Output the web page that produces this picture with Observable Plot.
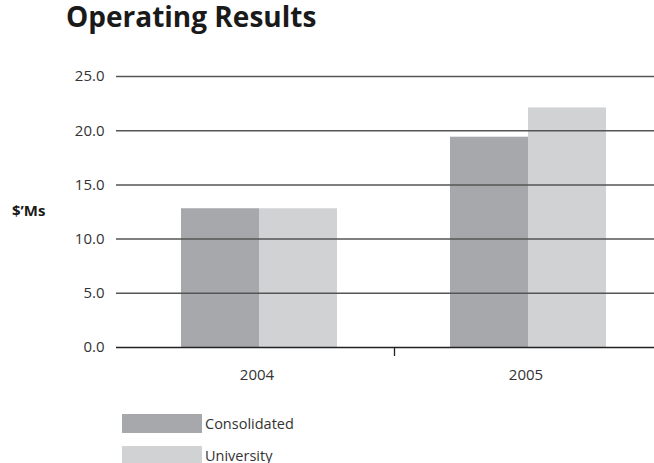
<!DOCTYPE html>
<html>
<head>
<meta charset="utf-8">
<script src="https://cdn.jsdelivr.net/npm/d3@7"></script>
<script src="https://cdn.jsdelivr.net/npm/@observablehq/plot@0.6"></script>
<style>
  html, body { margin: 0; padding: 0; background: #fff; overflow: hidden; }
  body { width: 654px; height: 463px; position: relative; font-family: "Open Sans", sans-serif; }
  #title { position: absolute; left: 66px; top: 2px; font-size: 28px; line-height: 28px; font-weight: 700; color: #1a1a1a; white-space: nowrap; z-index: 2; }
  #ylabel { position: absolute; left: 12px; top: 200px; font-size: 15px; font-weight: 700; color: #1a1a1a; z-index: 2; }
  #chart { position: absolute; left: 0; top: 50px; z-index: 1; }
  .leg { position: absolute; left: 122px; display: flex; align-items: center; font-size: 14.5px; line-height: 17px; color: #333; height: 19px; }
  .sw { width: 80px; height: 19px; margin-right: 3px; }
</style>
</head>
<body>
<div id="title">Operating Results</div>
<div id="ylabel">$’Ms</div>
<div id="chart"></div>
<div id="legend"></div>
<script>
const years = ["2004", "2005"];
const seriesNames = ["Consolidated", "University"];
const consolidated = [12.8, 19.4];
const university = [12.8, 22.1];
const yTicks = [0, 5, 10, 15, 20, 25];
const colors = ["#a7a8ab", "#d1d2d4"];

const data = [];
years.forEach((y, i) => {
  data.push({year: y, series: seriesNames[0], value: consolidated[i]});
  data.push({year: y, series: seriesNames[1], value: university[i]});
});

let tickDrawn = false;
const dividerTick = (index, scales, values, dimensions) => {
  if (tickDrawn) return null;
  tickDrawn = true;
  const x = scales.x, y = scales.y, fx = scales.fx;
  const bw = typeof x.bandwidth === "function" ? x.bandwidth() : x.bandwidth;
  const step = fx ? fx(years[1]) - fx(years[0]) : (dimensions.width - dimensions.marginLeft - dimensions.marginRight) / 2;
  const offset = fx ? fx(years[0]) - dimensions.marginLeft : 0;
  const endA = x(seriesNames[1]) + bw;
  const startB = step + x(seriesNames[0]);
  const xm = offset + (endA + startB) / 2;
  const y0 = y(0);
  const line = document.createElementNS("http://www.w3.org/2000/svg", "line");
  line.setAttribute("x1", xm); line.setAttribute("x2", xm);
  line.setAttribute("y1", y0); line.setAttribute("y2", y0 + 9);
  line.setAttribute("stroke", "#222");
  line.setAttribute("stroke-width", 1.3);
  return line;
};

const chart = Plot.plot({
  width: 654,
  height: 342,
  marginLeft: 115,
  marginRight: 0,
  marginTop: 26,
  marginBottom: 45,
  style: {fontFamily: "Open Sans, sans-serif", fontSize: "15px", color: "#333", background: "#fff"},
  fx: {domain: years, padding: 0, label: null, axis: null},
  x: {domain: seriesNames, paddingInner: 0, paddingOuter: 0.7166, align: 0.578, axis: null},
  y: {domain: [0, 25], label: null, axis: null},
  color: {domain: seriesNames, range: colors},
  marks: [
    Plot.barY(data, {fx: "year", x: "series", y: "value", fill: "series"}),
    Plot.ruleY(yTicks.filter(d => d > 0), {stroke: "#555", strokeWidth: 1.5}),
    Plot.ruleY([0], {stroke: "#222", strokeWidth: 1.5}),
    Plot.axisY({ticks: yTicks, tickFormat: d => d.toFixed(1), tickSize: 0, tickPadding: 12, label: null, fontSize: 15, fill: "#333"}),
    Plot.axisFx({anchor: "bottom", tickSize: 0, tickPadding: 22, label: null, dx: 6, fontSize: 15, fill: "#333"}),
    dividerTick
  ]
});
document.getElementById("chart").appendChild(chart);

const legend = document.getElementById("legend");
seriesNames.forEach((s, i) => {
  const row = document.createElement("div");
  row.className = "leg";
  row.style.top = (414 + i * 32) + "px";
  const sw = document.createElement("div");
  sw.className = "sw";
  sw.style.background = colors[i];
  const t = document.createElement("span");
  t.textContent = s;
  row.appendChild(sw); row.appendChild(t);
  legend.appendChild(row);
});
</script>
</body>
</html>
